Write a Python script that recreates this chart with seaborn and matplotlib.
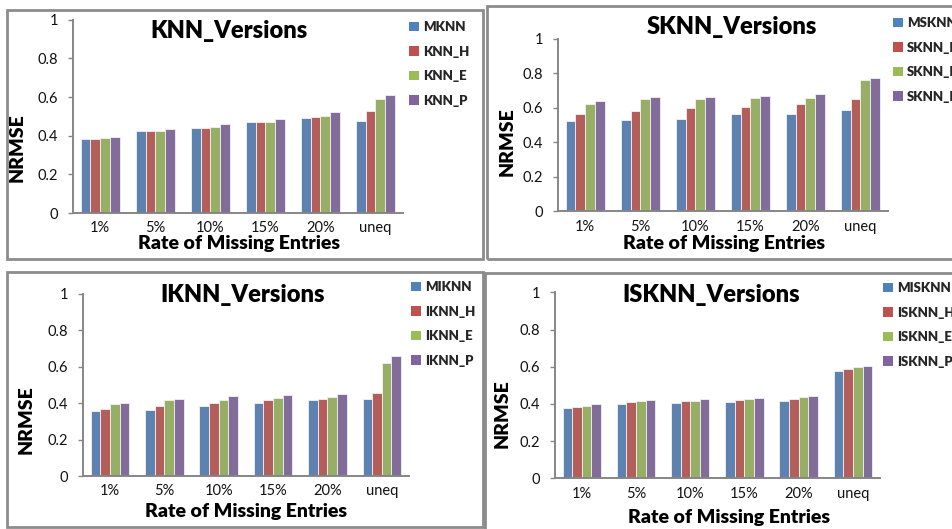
import pandas as pd
import matplotlib
matplotlib.use("Agg")
import matplotlib.pyplot as plt
import seaborn as sns
from matplotlib.patches import Patch, Rectangle

# Missing-entry rates on the x axis
rates = ["1%", "5%", "10%", "15%", "20%", "uneq"]

# KNN family
knn_labels = ["MKNN", "KNN_H", "KNN_E", "KNN_P"]
knn_m = [0.384, 0.422, 0.441, 0.469, 0.490, 0.474]
knn_h = [0.384, 0.424, 0.441, 0.469, 0.495, 0.526]
knn_e = [0.386, 0.424, 0.443, 0.469, 0.500, 0.591]
knn_p = [0.395, 0.434, 0.459, 0.486, 0.522, 0.612]

# SKNN family
sknn_labels = ["MSKNN", "SKNN_H", "SKNN_E", "SKNN_P"]
sknn_m = [0.523, 0.529, 0.537, 0.564, 0.562, 0.589]
sknn_h = [0.566, 0.579, 0.598, 0.602, 0.620, 0.649]
sknn_e = [0.624, 0.649, 0.649, 0.656, 0.656, 0.761]
sknn_p = [0.637, 0.662, 0.664, 0.666, 0.677, 0.771]

# IKNN family
iknn_labels = ["MIKNN", "IKNN_H", "IKNN_E", "IKNN_P"]
iknn_m = [0.355, 0.364, 0.382, 0.400, 0.419, 0.424]
iknn_h = [0.366, 0.382, 0.400, 0.417, 0.420, 0.453]
iknn_e = [0.393, 0.419, 0.417, 0.430, 0.431, 0.622]
iknn_p = [0.400, 0.424, 0.439, 0.442, 0.449, 0.656]

# ISKNN family
isknn_labels = ["MISKNN", "ISKNN_H", "ISKNN_E", "ISKNN_P"]
isknn_m = [0.376, 0.398, 0.405, 0.410, 0.414, 0.577]
isknn_h = [0.382, 0.410, 0.414, 0.419, 0.427, 0.590]
isknn_e = [0.389, 0.416, 0.418, 0.427, 0.437, 0.597]
isknn_p = [0.398, 0.423, 0.427, 0.430, 0.443, 0.606]

yticks = [0, 0.2, 0.4, 0.6, 0.8, 1]
ytick_labels = ["0", "0.2", "0.4", "0.6", "0.8", "1"]

colors = ["#4F81BD", "#C0504D", "#9BBB59", "#8064A2"]

sns.set_theme(style="white")
plt.rcParams["font.family"] = ["Lato", "DejaVu Sans"]

W, H = 952, 529
fig = plt.figure(figsize=(W / 100, H / 100), dpi=100)
fig.patch.set_facecolor("white")


def fx(x):
    return x / W


def fy(y):
    return 1 - y / H


def long_frame(labels, series):
    rows = []
    for lab, vals in zip(labels, series):
        for r, v in zip(rates, vals):
            rows.append({"rate": r, "method": lab, "nrmse": v})
    return pd.DataFrame(rows)


panels = [
    dict(title="KNN_Versions", labels=knn_labels, series=[knn_m, knn_h, knn_e, knn_p],
         frame=(7, 10, 483, 259), axes=(72.7, 19.7, 403, 213),
         title_xy=(229, 31), xlabel_xy=(239, 244), ylabel_xy=(17.5, 148),
         legend_xy=(409, 21)),
    dict(title="SKNN_Versions", labels=sknn_labels, series=[sknn_m, sknn_h, sknn_e, sknn_p],
         frame=(487, 6, 960, 259), axes=(557.7, 38.7, 888, 211.3),
         title_xy=(732, 27.5), xlabel_xy=(724, 244), ylabel_xy=(507.5, 142),
         legend_xy=(893, 17)),
    dict(title="IKNN_Versions", labels=iknn_labels, series=[iknn_m, iknn_h, iknn_e, iknn_p],
         frame=(7, 272, 483, 527), axes=(82.7, 293.7, 409, 476),
         title_xy=(243, 294.5), xlabel_xy=(246, 511), ylabel_xy=(26, 420),
         legend_xy=(411, 281)),
    dict(title="ISKNN_Versions", labels=isknn_labels, series=[isknn_m, isknn_h, isknn_e, isknn_p],
         frame=(485, 273, 960, 540), axes=(554.7, 292.3, 880, 478.3),
         title_xy=(711, 295.5), xlabel_xy=(729, 517), ylabel_xy=(502, 414),
         legend_xy=(883, 282)),
]

for p in panels:
    x0, y0, x1, y1 = p["frame"]
    fig.patches.append(Rectangle((fx(x0), fy(y1)), fx(x1) - fx(x0), fy(y0) - fy(y1),
                                 transform=fig.transFigure, fill=False,
                                 edgecolor="#8c8c8c", linewidth=2.0, zorder=0))

    ax0, ay0, ax1, ay1 = p["axes"]
    ax = fig.add_axes([fx(ax0), fy(ay1), fx(ax1) - fx(ax0), fy(ay0) - fy(ay1)])
    ax.set_facecolor("none")
    df = long_frame(p["labels"], p["series"])
    sns.barplot(data=df, x="rate", y="nrmse", hue="method", order=rates,
                hue_order=p["labels"], palette=colors, width=0.71,
                edgecolor="#f4f0f4", linewidth=0.6, legend=False, ax=ax)
    ax.set_xlim(-0.5, 5.5)
    ax.set_ylim(0, 1)
    ax.set_yticks(yticks)
    ax.set_yticklabels(ytick_labels)
    ax.set_xlabel("")
    ax.set_ylabel("")
    for s in ["top", "right"]:
        ax.spines[s].set_visible(False)
    for s in ["left", "bottom"]:
        ax.spines[s].set_color("#868686")
        ax.spines[s].set_linewidth(1.4)
    ax.tick_params(axis="y", direction="out", length=3.6, width=1.0, color="#868686",
                   pad=7, labelsize=10.5, labelcolor="#111111", left=True)
    ax.tick_params(axis="x", length=0, pad=6, labelsize=10.5, labelcolor="#111111")

    fig.text(fx(p["title_xy"][0]), fy(p["title_xy"][1]), p["title"], ha="center",
             va="center", fontsize=17, fontweight="heavy", color="black")
    fig.text(fx(p["xlabel_xy"][0]), fy(p["xlabel_xy"][1]), "Rate of Missing Entries",
             ha="center", va="center", fontsize=14, fontweight="heavy", color="black")
    fig.text(fx(p["ylabel_xy"][0]), fy(p["ylabel_xy"][1]), "NRMSE", ha="center",
             va="center", rotation=90, fontsize=14, fontweight="heavy", color="black")

    handles = [Patch(facecolor=c, edgecolor="none") for c in colors]
    fig.legend(handles, p["labels"], loc="upper left",
               bbox_to_anchor=(fx(p["legend_xy"][0]), fy(p["legend_xy"][1])),
               bbox_transform=fig.transFigure, frameon=False, borderpad=0,
               borderaxespad=0, handlelength=0.75, handleheight=0.75,
               handletextpad=0.3, labelspacing=0.95,
               prop={"family": ["Lato", "DejaVu Sans"], "weight": "heavy", "size": 9.5})

fig.savefig("out.png", dpi=100, facecolor="white")
